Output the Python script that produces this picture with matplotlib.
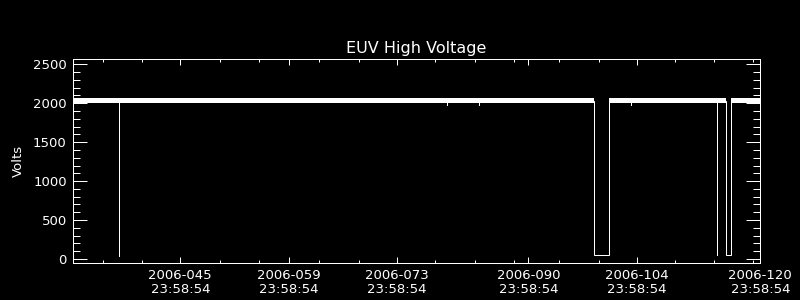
import matplotlib
matplotlib.use("Agg")
import matplotlib.pyplot as plt
from matplotlib.ticker import FixedLocator, NullFormatter

# ---------------- data (day-of-year 2006, volts) ----------------
t_first = 32.09          # first sample (day of year)
t_last = 120.9992        # last sample
nominal = 2032           # nominal high-voltage level
band_lo = 2005           # lower edge of the noise band
band_hi = 2062           # upper edge of the noise band

# dropouts: start day, end day, level (V)
dip_start = [38.11, 99.52, 115.42, 116.58]
dip_end = [38.11, 101.38, 115.42, 117.22]
dip_level = [42, 50, 50, 50]

# small short glitches below the band
glitch_day = [80.44, 84.58, 104.26]
glitch_volts = [1975, 1978, 1980]

# axis ticks / labels
major_days = [45.9992, 59.9992, 73.9992, 90.9992, 104.9992, 120.9992]
major_labels = ["2006-045\n23:58:54", "2006-059\n23:58:54", "2006-073\n23:58:54",
                "2006-090\n23:58:54", "2006-104\n23:58:54", "2006-120\n23:58:54"]
minor_days = [36.04, 41.09, 51.09, 56.13, 63.96, 69.06, 79.0, 84.06, 89.1,
              94.99, 100.08, 110.03, 115.07, 120.1]
y_major = [0, 500, 1000, 1500, 2000, 2500]
y_minor = list(range(0, 2600, 100))

# ---------------- build trace ----------------
t = [t_first]
v = [nominal]
events = sorted([(s, e, l) for s, e, l in zip(dip_start, dip_end, dip_level)] +
                [(g, g, gv) for g, gv in zip(glitch_day, glitch_volts)])
for s, e, l in events:
    t += [s, s, e, e]
    v += [nominal, l, l, nominal]
t.append(t_last)
v.append(nominal)

# high segments between dropouts (for noise band)
seg_edges = [t_first]
for s, e, l in zip(dip_start, dip_end, dip_level):
    seg_edges += [s, e]
seg_edges.append(t_last)

# ---------------- plot ----------------
px = 0.72
fig = plt.figure(figsize=(8, 3), dpi=100, facecolor="black")
ax = fig.add_axes([72.7 / 800, 1 - 262.7 / 300, (760.3 - 72.7) / 800, (262.7 - 59.3) / 300],
                  facecolor="black")

for i in range(0, len(seg_edges), 2):
    a, b = seg_edges[i], seg_edges[i + 1]
    ax.fill_between([a, b], [band_lo, band_lo], [band_hi, band_hi],
                    color="white", linewidth=0)
ax.plot(t, v, color="white", linewidth=1 * px, solid_joinstyle="miter")

ax.set_xlim(t_first, t_last)
ax.set_ylim(-48, 2565)

ax.xaxis.set_major_locator(FixedLocator(major_days))
ax.set_xticklabels(major_labels)
ax.xaxis.set_minor_locator(FixedLocator(minor_days))
ax.xaxis.set_minor_formatter(NullFormatter())
ax.yaxis.set_major_locator(FixedLocator(y_major))
ax.set_yticklabels([str(y) for y in y_major])
ax.yaxis.set_minor_locator(FixedLocator([y for y in y_minor if y not in y_major]))

for sp in ax.spines.values():
    sp.set_color("white")
    sp.set_linewidth(1 * px)

ax.tick_params(axis="both", which="both", direction="in", top=True, right=True,
               colors="white", width=1 * px)
ax.tick_params(axis="x", which="major", length=6 * px, pad=4.5, labelsize=9.5)
ax.tick_params(axis="x", which="minor", length=3 * px)
ax.tick_params(axis="y", which="major", length=14 * px, pad=4.3, labelsize=9.5)
ax.tick_params(axis="y", which="minor", length=7 * px)
for lab in ax.get_xticklabels():
    lab.set_linespacing(1.15)

ax.set_title("EUV High Voltage", color="white", fontsize=11.5, pad=4.5)
fig.text(18 / 800, 1 - 161 / 300, "Volts", rotation=90, color="white",
         ha="center", va="center", fontsize=9.5)

fig.savefig("out.png", dpi=100, facecolor="black")
